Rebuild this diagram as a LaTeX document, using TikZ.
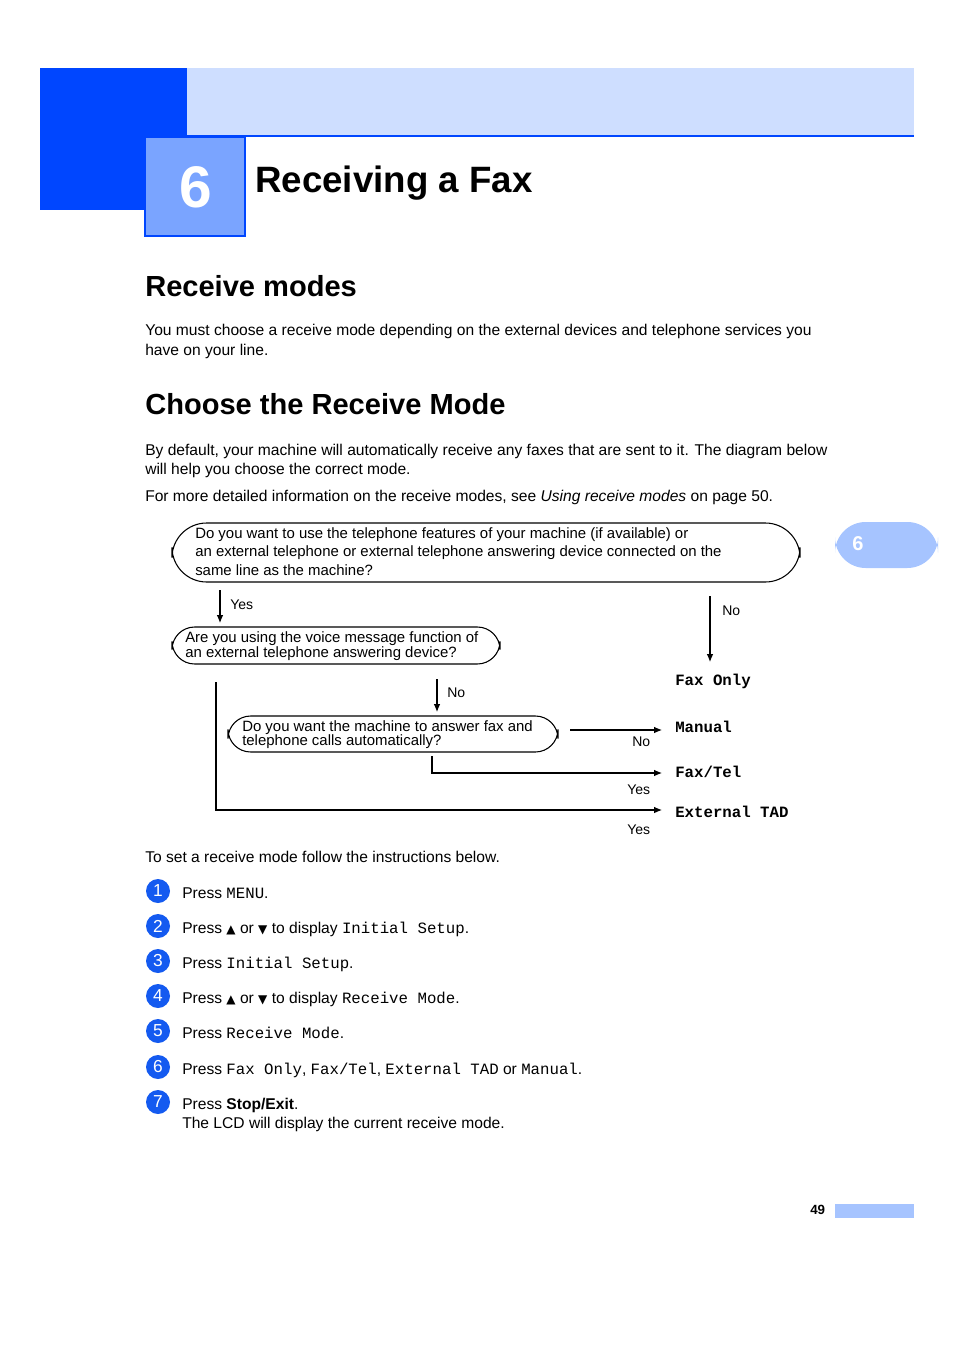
\documentclass[tikz,border=0pt]{standalone}
\usepackage{fontspec}
\setmainfont{Liberation Sans}
\setmonofont{Liberation Mono}
\newfontfamily\symfont{DejaVu Sans}
\usetikzlibrary{arrows.meta, positioning}
\definecolor{deepblue}{RGB}{0,70,255}
\definecolor{paleblue}{RGB}{206,222,255}
\definecolor{midblue}{RGB}{122,164,255}
\definecolor{tabblue}{RGB}{166,196,255}
\definecolor{ballblue}{RGB}{20,90,240}
\newcommand{\up}{{\symfont\fontsize{9}{9}\selectfont ▲}}
\newcommand{\down}{{\symfont\fontsize{9}{9}\selectfont ▼}}
\newcommand{\lcd}[1]{{\ttfamily\fontsize{11.8}{12}\selectfont #1}}
\tikzset{
  txt/.style={anchor=base west, inner sep=0pt, font=\fontsize{11.7}{14}\selectfont},
  question/.style={draw, line width=0.8pt, inner sep=0pt},
  fc/.style={anchor=north west, inner sep=0pt, font=\fontsize{11.2}{13.9}\selectfont, align=left},
  answer/.style={anchor=base west, inner sep=0pt, font=\ttfamily\bfseries\fontsize{11.8}{12}\selectfont},
  yn/.style={anchor=base west, inner sep=0pt, font=\fontsize{10.5}{12}\selectfont},
  ball/.style={circle, fill=ballblue, text=white, minimum size=18pt, inner sep=0pt, font=\fontsize{13}{13}\selectfont},
  flow/.style={line width=0.8pt, -{Latex[length=6pt,width=5pt]}}
}
\begin{document}
\begin{tikzpicture}[x=0.75pt, y=-0.75pt]
\useasboundingbox (0,0) rectangle (954,1351);
% chapter header
\fill[deepblue] (40,68) rectangle (187,210);
\fill[paleblue] (187,68) rectangle (914,136);
\draw[deepblue, line width=0.8pt] (187,136) -- (914,136);
\draw[deepblue, fill=midblue, line width=0.8pt] (145,137) rectangle (245,236);
\node[inner sep=0pt, text=white, font=\bfseries\fontsize{44}{44}\selectfont] (chapno) at (196,187) {6};
\node[txt, font=\bfseries\fontsize{27.5}{30}\selectfont] (chaptitle) at (255,193) {Receiving a Fax};
% side tab and footer
\fill[tabblue, rounded corners=23pt] (835,522) rectangle (938,568);
\node[inner sep=0pt, text=white, font=\bfseries\fontsize{15}{15}\selectfont] (tabno) at (858,544) {6};
\fill[tabblue] (835,1204) rectangle (914,1218);
\node[txt, font=\bfseries\fontsize{10}{12}\selectfont] (pageno) at (810,1214) {49};
% text
\node[txt, font=\bfseries\fontsize{21.8}{24}\selectfont] (h1) at (145,297) {Receive modes};
\node[txt] (p1) at (145,336) {You must choose a receive mode depending on the external devices and telephone services you};
\node[txt] (p1b) at (145,356) {have on your line.};
\node[txt, font=\bfseries\fontsize{21.8}{24}\selectfont] (h2) at (145,414) {Choose the Receive Mode};
\node[txt] (p2) at (145,455) {By default, your machine will automatically receive any faxes that are sent to it. The diagram below};
\node[txt] (p2b) at (145,474) {will help you choose the correct mode.};
\node[txt] (p3) at (145,501) {For more detailed information on the receive modes, see \textit{Using receive modes} on page 50.};
% flowchart
\draw[question, rounded corners=26pt] (172,523) rectangle (800,582);
\node[fc] (q1) at (195,527) {Do you want to use the telephone features of your machine (if available) or\\an external telephone or external telephone answering device connected on the\\same line as the machine?};
\draw[question, rounded corners=17pt] (172,627) rectangle (500,664);
\node[fc, font=\fontsize{11.2}{11.3}\selectfont] (q2) at (185,631) {Are you using the voice message function of\\an external telephone answering device?};
\draw[question, rounded corners=17pt] (228,716) rectangle (558,752);
\node[fc, font=\fontsize{11.2}{10.5}\selectfont] (q3) at (242,720) {Do you want the machine to answer fax and\\telephone calls automatically?};
\node[answer] (faxonly) at (675,685) {Fax Only};
\node[answer] (manual) at (675,732) {Manual};
\node[answer] (faxtel) at (675,777) {Fax/Tel};
\node[answer] (tad) at (675,817) {External TAD};
\draw[flow] (220,590) -- (220,623);
\node[yn] at (230,609) {Yes};
\draw[flow] (710,596) -- (710,662);
\node[yn] at (722,615) {No};
\draw[flow] (437,679) -- (437,712);
\node[yn] at (447,697) {No};
\draw[flow] (570,730) -- (662,730);
\node[yn] at (632,746) {No};
\draw[flow] (432,756) |- (662,773);
\node[yn] at (627,794) {Yes};
\draw[flow] (216,682) |- (662,810);
\node[yn] at (627,834) {Yes};
% steps
\node[txt] (intro) at (145,862) {To set a receive mode follow the instructions below.};
\foreach \n/\yy in {1/891,2/926,3/961,4/996,5/1031,6/1067,7/1102}
  \node[ball] (b\n) at (158,\yy) {\n};
\node[txt] (s1) at (182,898) {Press \lcd{MENU}.};
\node[txt] (s2) at (182,933) {Press \up{} or \down{} to display \lcd{Initial Setup}.};
\node[txt] (s3) at (182,968) {Press \lcd{Initial Setup}.};
\node[txt] (s4) at (182,1003) {Press \up{} or \down{} to display \lcd{Receive Mode}.};
\node[txt] (s5) at (182,1038) {Press \lcd{Receive Mode}.};
\node[txt] (s6) at (182,1074) {Press \lcd{Fax Only}, \lcd{Fax/Tel}, \lcd{External TAD} or \lcd{Manual}.};
\node[txt] (s7) at (182,1109) {Press \textbf{Stop/Exit}.};
\node[txt] (s7b) at (182,1128) {The LCD will display the current receive mode.};
\end{tikzpicture}
\end{document}
